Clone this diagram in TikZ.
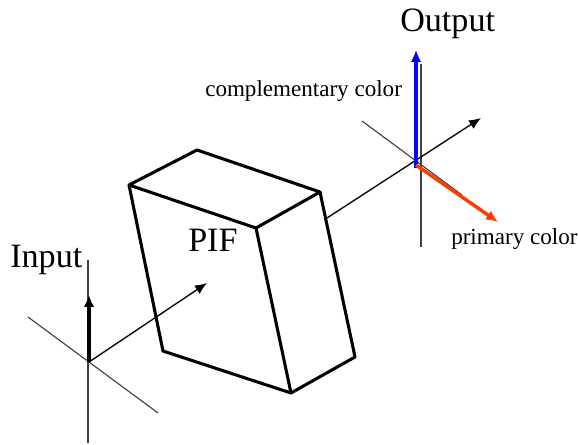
\documentclass[tikz,border=0pt]{standalone}
\usepackage{fontspec}
\setmainfont{Liberation Serif}
\usetikzlibrary{arrows.meta}
\definecolor{primarycol}{RGB}{255,60,0}
\tikzset{
  axisline/.style={draw=black!75, line width=0.85pt},
  beamline/.style={draw=black, line width=1pt, -{Latex[length=9pt,width=7.5pt]}},
  boxline/.style={draw=black, line width=2.3pt, line join=round},
  bigtext/.style={inner sep=0pt, anchor=base west, font=\fontsize{25.6}{27}\selectfont},
  smalltext/.style={inner sep=0pt, anchor=base west, font=\fontsize{17.3}{19}\selectfont}
}
\begin{document}
\begin{tikzpicture}[x=0.75pt, y=-0.75pt]
    \useasboundingbox (0,0) rectangle (579,445);

    % input axes
    \coordinate (inO) at (89,362);
    \coordinate (inTop) at (88,260);
    \coordinate (inBottom) at (88,443);
    \coordinate (inLeft) at (28,317);
    \coordinate (inRight) at (158,413);
    \coordinate (inBeam) at (207,283);
    \coordinate (inPol) at (89,295);
    \draw[axisline] (inTop) -- (inBottom);
    \draw[axisline] (inLeft) -- (inRight);
    \draw[beamline] (inO) -- (inBeam);
    \draw[line width=2.6pt, -{Latex[length=9pt,width=8pt]}] (inO) -- (inPol);

    % PIF block
    \coordinate (topA) at (129,185);
    \coordinate (topB) at (197,150);
    \coordinate (topC) at (320,192);
    \coordinate (topD) at (256,228);
    \coordinate (botA) at (163,351);
    \coordinate (botD) at (291,393);
    \coordinate (botC) at (355,357);
    \draw[boxline] (topA) -- (topB) -- (topC) -- (topD) -- cycle;
    \draw[boxline] (topA) -- (botA) -- (botD) -- (botC) -- (topC);
    \draw[boxline] (topD) -- (botD);

    % output axes
    \coordinate (outO) at (416,162);
    \coordinate (outTop) at (421,64);
    \coordinate (outBottom) at (421,247);
    \coordinate (outLeft) at (362,121);
    \coordinate (outRight) at (462,195);
    \coordinate (outStart) at (327,218);
    \coordinate (outBeam) at (481,118);
    \coordinate (blueStart) at (416,168);
    \coordinate (blueEnd) at (416,50);
    \coordinate (redStart) at (416,165);
    \coordinate (redEnd) at (498,222);
    \draw[axisline] (outTop) -- (outBottom);
    \draw[axisline] (outLeft) -- (outRight);
    \draw[beamline] (outStart) -- (outBeam);
    \draw[blue, line width=2.6pt, -{Latex[length=9pt,width=8pt]}] (blueStart) -- (blueEnd);
    \draw[primarycol, line width=2.6pt, -{Latex[length=9pt,width=8pt]}] (redStart) -- (redEnd);

    \node[bigtext] (inLabel) at (10,268) {Input};
    \node[bigtext] (pifLabel) at (188,252) {PIF};
    \node[bigtext] (outLabel) at (400,32) {Output};
    \node[smalltext] (compLabel) at (205,97) {complementary color};
    \node[smalltext] (primLabel) at (451,245) {primary color};
\end{tikzpicture}
\end{document}
